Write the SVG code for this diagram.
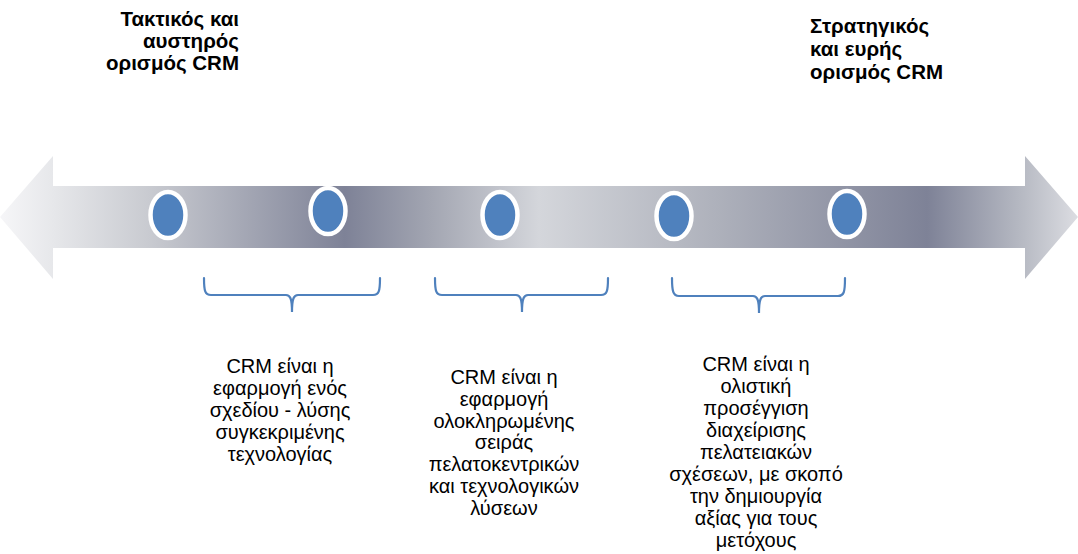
<svg xmlns="http://www.w3.org/2000/svg" width="1078" height="554" viewBox="0 0 1078 554">
<defs>
<linearGradient id="shaft" x1="0" y1="0" x2="1078" y2="0" gradientUnits="userSpaceOnUse">
<stop offset="0" stop-color="#f6f6f8"/>
<stop offset="0.05" stop-color="#e6e7ea"/>
<stop offset="0.14" stop-color="#c8cad0"/>
<stop offset="0.32" stop-color="#7e8297"/>
<stop offset="0.4" stop-color="#a3a6b2"/>
<stop offset="0.5" stop-color="#d4d6db"/>
<stop offset="0.66" stop-color="#afb2bc"/>
<stop offset="0.86" stop-color="#7e8297"/>
<stop offset="0.95" stop-color="#b8bbc4"/>
<stop offset="1" stop-color="#dcdde2"/>
</linearGradient>
<style>
.dot{fill:#4f81bd;stroke:#ffffff;stroke-width:4.5}
.brace{fill:none;stroke:#4f81bd;stroke-width:2.2;stroke-linecap:round}
.head{font-family:"Liberation Sans",Arial,sans-serif;font-size:20.5px;font-weight:bold;fill:#000}
.desc{font-family:"Liberation Sans",Arial,sans-serif;font-size:20px;fill:#000;text-anchor:middle}
</style>
</defs>
<rect width="1078" height="554" fill="#ffffff"/>
<g id="arrow">
<path d="M0,217 L53,156 L53,186 L1025,186 L1025,156 L1078,217 L1025,279 L1025,248 L53,248 L53,279 Z" fill="url(#shaft)"/>
</g>
<g id="node1"><ellipse class="dot" cx="168" cy="215" rx="17.5" ry="23"/></g>
<g id="node2"><ellipse class="dot" cx="328" cy="211" rx="17.5" ry="23"/></g>
<g id="node3"><ellipse class="dot" cx="500" cy="215" rx="17.5" ry="23"/></g>
<g id="node4"><ellipse class="dot" cx="674" cy="216" rx="17.5" ry="23"/></g>
<g id="node5"><ellipse class="dot" cx="847" cy="214" rx="17.5" ry="23"/></g>
<g id="connectors">
<path class="brace" d="M204,278 C204,291 205,295 211,295 L286,295 C290,295 292,298 292,312 C292,298 294,295 298,295 L373,295 C379,295 380,291 380,278"/>
<path class="brace" d="M435,278 C435,291 436,295 442,295 L516,295 C520,295 522,298 522,312 C522,298 524,295 528,295 L601,295 C607,295 608,291 608,278"/>
<path class="brace" d="M672,278 C672,291 673,296 679,296 L753,296 C757,296 759,299 759,313 C759,299 761,296 765,296 L838,296 C844,296 845,292 845,278"/>
</g>
<g id="label-left">
<text class="head" text-anchor="end"><tspan x="239" y="26">Τακτικός και</tspan><tspan x="239" y="48">αυστηρός</tspan><tspan x="239" y="70">ορισμός CRM</tspan></text>
</g>
<g id="label-right">
<text class="head"><tspan x="810" y="33">Στρατηγικός</tspan><tspan x="810" y="56">και ευρής</tspan><tspan x="810" y="79">ορισμός CRM</tspan></text>
</g>
<g id="text1">
<text class="desc"><tspan x="280" y="373">CRM είναι η</tspan><tspan x="280" y="395">εφαρμογή ενός</tspan><tspan x="280" y="417">σχεδίου - λύσης</tspan><tspan x="280" y="439">συγκεκριμένης</tspan><tspan x="280" y="461">τεχνολογίας</tspan></text>
</g>
<g id="text2">
<text class="desc"><tspan x="504" y="384">CRM είναι η</tspan><tspan x="504" y="406">εφαρμογή</tspan><tspan x="504" y="427.5">ολοκληρωμένης</tspan><tspan x="504" y="449">σειράς</tspan><tspan x="504" y="471">πελατοκεντρικών</tspan><tspan x="504" y="493">και τεχνολογικών</tspan><tspan x="504" y="515">λύσεων</tspan></text>
</g>
<g id="text3">
<text class="desc"><tspan x="756" y="371">CRM είναι η</tspan><tspan x="756" y="393">ολιστική</tspan><tspan x="756" y="415">προσέγγιση</tspan><tspan x="756" y="437">διαχείρισης</tspan><tspan x="756" y="459">πελατειακών</tspan><tspan x="756" y="481">σχέσεων, με σκοπό</tspan><tspan x="756" y="503">την δημιουργία</tspan><tspan x="756" y="525">αξίας για τους</tspan><tspan x="756" y="547">μετόχους</tspan></text>
</g>
</svg>
